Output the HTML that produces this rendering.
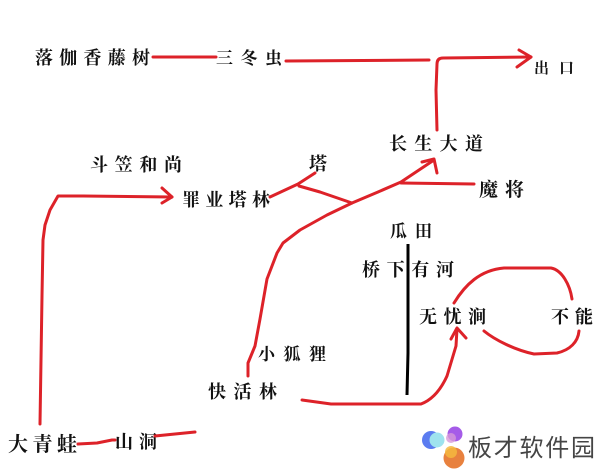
<!DOCTYPE html>
<html><head><meta charset="utf-8">
<style>
html,body{margin:0;padding:0;background:#fff;}
svg{display:block;}
.t{font-family:"Liberation Serif","Noto Serif CJK SC",serif;font-weight:700;fill:#111;}
.r{fill:none;stroke:#dd2229;stroke-width:3;stroke-linecap:round;stroke-linejoin:round;}
</style></head>
<body>
<svg width="608" height="473" viewBox="0 0 608 473" xmlns="http://www.w3.org/2000/svg">
<rect width="608" height="473" fill="#fff"/>
<!-- labels -->
<text class="t" x="35" y="64" font-size="18" textLength="115" lengthAdjust="spacing">落伽香藤树</text>
<text class="t" x="216" y="64" font-size="17" textLength="66" lengthAdjust="spacing">三冬虫</text>
<text class="t" x="534" y="73" font-size="15" textLength="40" lengthAdjust="spacing">出口</text>
<text class="t" x="389" y="150" font-size="18" textLength="94" lengthAdjust="spacing">长生大道</text>
<text class="t" x="479" y="196" font-size="19" textLength="45" lengthAdjust="spacing">魔将</text>
<text class="t" x="309" y="170" font-size="18">塔</text>
<text class="t" x="90" y="171" font-size="18" textLength="92" lengthAdjust="spacing">斗笠和尚</text>
<text class="t" x="182" y="206" font-size="18" textLength="88" lengthAdjust="spacing">罪业塔林</text>
<text class="t" x="390" y="237" font-size="17" textLength="42" lengthAdjust="spacing">瓜田</text>
<text class="t" x="362" y="276" font-size="18" textLength="92" lengthAdjust="spacing">桥下有河</text>
<text class="t" x="419" y="323" font-size="18" textLength="67" lengthAdjust="spacing">无忧涧</text>
<text class="t" x="551" y="323" font-size="18" textLength="42" lengthAdjust="spacing">不能</text>
<text class="t" x="258" y="360" font-size="17" textLength="68" lengthAdjust="spacing">小狐狸</text>
<text class="t" x="208" y="398" font-size="18" textLength="69" lengthAdjust="spacing">快活林</text>
<text class="t" x="8" y="451" font-size="20" textLength="69" lengthAdjust="spacing">大青蛙</text>
<text class="t" x="115" y="448" font-size="18" textLength="42" lengthAdjust="spacing">山洞</text>

<!-- red connectors -->
<path class="r" d="M153,57 L216,57"/>
<path class="r" d="M286,61 L429,60"/>
<path class="r" d="M437,130 L436,90 L437,64 Q437,58 443,58 L531,57"/>
<path class="r" d="M519,50 L531,57 L517,67"/>
<path class="r" d="M270,197 L298,184 L315,173"/>
<path class="r" d="M299,186 L320,192 L352,203"/>
<path class="r" d="M248,376 L248,363 L255,346 L260,319 L267,279 L277,253 L283,243 L300,230 L327,215 L352,203 L378,192 L401,182 L434,160"/>
<path class="r" d="M422,162 L434,159 L437,173"/>
<path class="r" d="M474,184 L401,183"/>
<path class="r" d="M302,400 L331,404 L421,404 Q437,398 447,376 L456,346 L457,329"/>
<path class="r" d="M451,339 L457,328 L466,338"/>
<path class="r" d="M454,303 C465,285 480,270 504,268 L551,268 C562,270 570,285 572,299"/>
<path class="r" d="M484,331 C495,340 515,350 534,354 L557,353 C570,350 578,342 579,331"/>
<path class="r" d="M40,424 L42,296 L43,240 L45,225 L50,210 L58,196 L83,196 L172,197"/>
<path class="r" d="M162,188 L172,197 L162,203"/>
<path class="r" d="M78,444 L97,443 L112,440 L115,440"/>
<path class="r" d="M155,436 L195,432"/>

<!-- black line -->
<path d="M408,244 L408,353 L407,395" fill="none" stroke="#000" stroke-width="3"/>

<!-- watermark -->
<circle cx="431" cy="440" r="9" fill="#5b7cf0"/>
<circle cx="437" cy="440" r="7.5" fill="#9fe3ee"/>
<circle cx="455" cy="434" r="7.5" fill="#a55be8"/>
<circle cx="451" cy="438" r="5" fill="#d79ad8" opacity="0.8"/>
<circle cx="454" cy="458" r="10.5" fill="#e8813e"/>
<circle cx="451" cy="452" r="6" fill="#f5b93e" opacity="0.85"/>
<text x="468" y="456" font-size="24" font-family="'Liberation Sans','Noto Sans CJK SC',sans-serif" fill="#454545" textLength="127" lengthAdjust="spacing">板才软件园</text>
</svg>
</body></html>
